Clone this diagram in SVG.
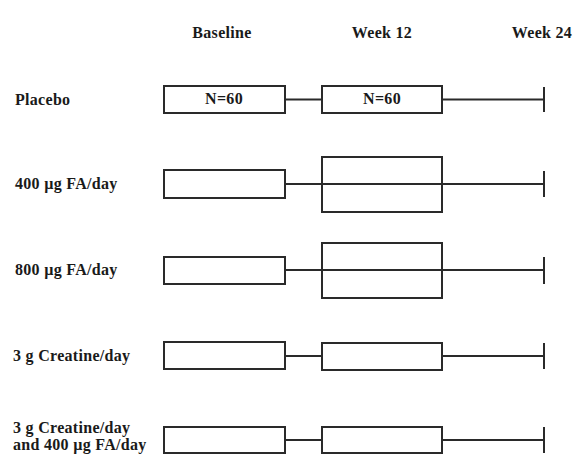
<svg xmlns="http://www.w3.org/2000/svg" width="578" height="455" viewBox="0 0 578 455">
  <style>
    .t { font-family: "Liberation Serif", "Times New Roman", serif; font-weight: bold; font-size: 16px; fill: #1a1a1a; letter-spacing: 0.3px; }
    .c { text-anchor: middle; }
    .box { fill: #ffffff; stroke: #2a2a2a; stroke-width: 2; }
    .ln { stroke: #2a2a2a; stroke-width: 2; fill: none; }
  </style>
  <rect width="578" height="455" fill="#ffffff"/>

  <!-- column headings -->
  <g id="headings">
    <text class="t c" x="222" y="38">Baseline</text>
    <text class="t c" x="382" y="38">Week 12</text>
    <text class="t c" x="542" y="38">Week 24</text>
  </g>

  <!-- timeline connectors -->
  <g id="connectors">
    <path class="ln" d="M285 99.5 H322 M442 99.5 H544 M544 87 V112"/>
    <path class="ln" d="M285 184 H544 M544 171 V197"/>
    <path class="ln" d="M285 270 H544 M544 257 V284"/>
    <path class="ln" d="M285 356 H322 M442 356 H544 M544 343 V369"/>
    <path class="ln" d="M285 440 H322 M442 440 H544 M544 427 V453"/>
  </g>

  <!-- group: placebo -->
  <g id="placebo">
    <text class="t" x="15" y="105">Placebo</text>
    <rect class="box" x="164" y="86" width="121" height="27"/>
    <text class="t c" x="224" y="104" font-size="13">N=60</text>
    <rect class="box" x="322" y="86" width="120" height="27"/>
    <text class="t c" x="382" y="104" font-size="13">N=60</text>
  </g>

  <!-- group: 400 µg FA -->
  <g id="fa400">
    <text class="t" x="15" y="189">400 µg FA/day</text>
    <rect class="box" x="164" y="170" width="121" height="28"/>
    <rect class="box" x="322" y="157" width="120" height="55" fill-opacity="0"/>
  </g>

  <!-- group: 800 µg FA -->
  <g id="fa800">
    <text class="t" x="15" y="275">800 µg FA/day</text>
    <rect class="box" x="164" y="257" width="121" height="27"/>
    <rect class="box" x="322" y="243" width="120" height="55" fill-opacity="0"/>
  </g>

  <!-- group: creatine -->
  <g id="creatine">
    <text class="t" x="13" y="361">3 g Creatine/day</text>
    <rect class="box" x="164" y="342" width="121" height="27"/>
    <rect class="box" x="322" y="343" width="120" height="27"/>
  </g>

  <!-- group: creatine + FA -->
  <g id="creatine-fa">
    <text class="t" x="13" y="433">3 g Creatine/day</text>
    <text class="t" x="13" y="450">and 400 µg FA/day</text>
    <rect class="box" x="164" y="427" width="121" height="26"/>
    <rect class="box" x="322" y="427" width="120" height="26"/>
  </g>
</svg>
